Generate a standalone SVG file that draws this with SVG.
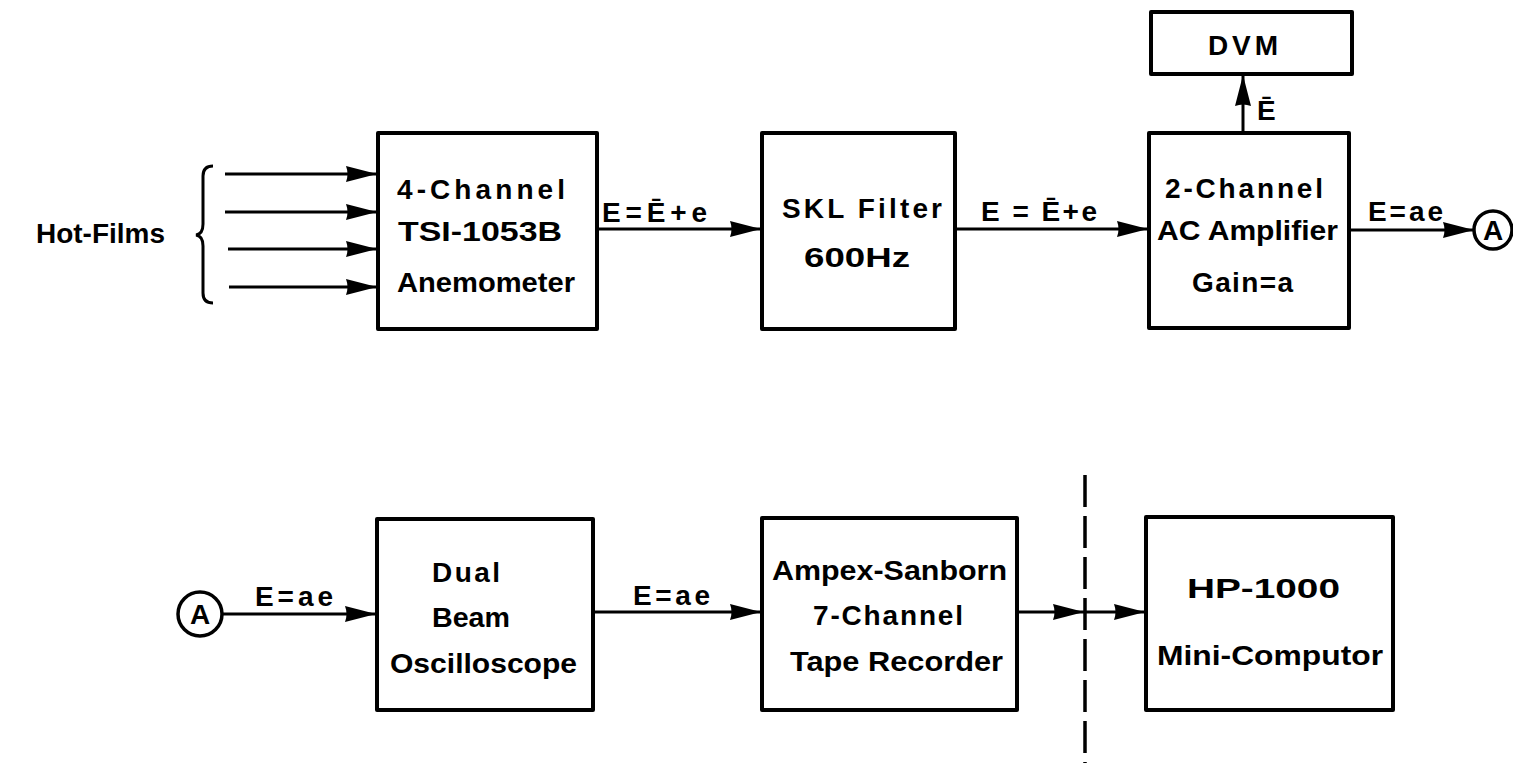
<svg xmlns="http://www.w3.org/2000/svg" width="1513" height="763" viewBox="0 0 1513 763">
<style>
.box{fill:none;stroke:#000;stroke-width:4;stroke-linejoin:round}
.ln{fill:none;stroke:#000;stroke-width:3}
.t{font-family:"Liberation Sans",Arial,sans-serif;font-weight:bold;font-size:28px;fill:#000}
.dash{fill:none;stroke:#000;stroke-width:3.5;stroke-dasharray:32 9}
.circ{fill:#fff;stroke:#000;stroke-width:3.5}
</style>
<defs>
<marker id="ah" markerUnits="userSpaceOnUse" markerWidth="34" markerHeight="18" viewBox="-32 -9 34 18" refX="0" refY="0" orient="auto">
<path d="M0,0 L-31,-8 Q-28,0 -31,8 Z" fill="#000"/>
</marker>
</defs>
<rect x="0" y="0" width="1513" height="763" fill="#fff"/>

<g id="hotfilms">
<text class="t" x="36" y="243" textLength="129" lengthAdjust="spacingAndGlyphs">Hot-Films</text>
<path class="ln" d="M213,166 Q203,166 203,176 L203,224 Q203,234 196,235 Q203,236 203,246 L203,293 Q203,303 213,303"/>
</g>

<g id="anemometer">
<rect class="box" x="378" y="133" width="219" height="196"/>
<text class="t" x="397" y="199" textLength="168">4-Channel</text>
<text class="t" x="398" y="241" textLength="164" lengthAdjust="spacingAndGlyphs">TSI-1053B</text>
<text class="t" x="397" y="292" textLength="178" lengthAdjust="spacingAndGlyphs">Anemometer</text>
</g>

<g id="skl">
<rect class="box" x="762" y="133" width="193" height="196"/>
<text class="t" x="782" y="218" textLength="160">SKL Filter</text>
<text class="t" x="804" y="267" textLength="106" lengthAdjust="spacingAndGlyphs">600Hz</text>
</g>

<g id="amplifier">
<rect class="box" x="1149" y="133" width="200" height="195"/>
<text class="t" x="1165" y="198" textLength="158">2-Channel</text>
<text class="t" x="1157" y="240" textLength="181" lengthAdjust="spacingAndGlyphs">AC Amplifier</text>
<text class="t" x="1192" y="292" textLength="101">Gain=a</text>
</g>

<g id="dvm">
<rect class="box" x="1151" y="12" width="201" height="62"/>
<text class="t" x="1208" y="55" textLength="70">DVM</text>
</g>

<g id="connA-top">
<circle class="circ" cx="1493" cy="230" r="19"/>
<text class="t" x="1493" y="240" text-anchor="middle">A</text>
</g>

<g id="connA-bottom">
<circle class="circ" cx="200" cy="614" r="22"/>
<text class="t" x="200" y="624" text-anchor="middle">A</text>
</g>

<g id="oscilloscope">
<rect class="box" x="377" y="519" width="216" height="191"/>
<text class="t" x="432" y="582" textLength="68">Dual</text>
<text class="t" x="432" y="627" textLength="78" lengthAdjust="spacingAndGlyphs">Beam</text>
<text class="t" x="390" y="673" textLength="187" lengthAdjust="spacingAndGlyphs">Oscilloscope</text>
</g>

<g id="taperecorder">
<rect class="box" x="762" y="518" width="255" height="192"/>
<text class="t" x="772" y="580" textLength="235" lengthAdjust="spacingAndGlyphs">Ampex-Sanborn</text>
<text class="t" x="813" y="625" textLength="150">7-Channel</text>
<text class="t" x="790" y="671" textLength="213" lengthAdjust="spacingAndGlyphs">Tape Recorder</text>
</g>

<g id="computer">
<rect class="box" x="1146" y="517" width="247" height="193"/>
<text class="t" x="1187" y="598" textLength="153" lengthAdjust="spacingAndGlyphs">HP-1000</text>
<text class="t" x="1157" y="665" textLength="226" lengthAdjust="spacingAndGlyphs">Mini-Computor</text>
</g>

<g id="connectors">
<path class="ln" d="M225,174 H377" marker-end="url(#ah)"/>
<path class="ln" d="M225,212 H377" marker-end="url(#ah)"/>
<path class="ln" d="M228,249 H377" marker-end="url(#ah)"/>
<path class="ln" d="M229,287 H377" marker-end="url(#ah)"/>
<path class="ln" d="M597,229 H761" marker-end="url(#ah)"/>
<path class="ln" d="M955,229 H1148" marker-end="url(#ah)"/>
<path class="ln" d="M1349,230 H1474" marker-end="url(#ah)"/>
<path class="ln" d="M1243,133 V75" marker-end="url(#ah)"/>
<path class="ln" d="M222,614 H376" marker-end="url(#ah)"/>
<path class="ln" d="M593,612 H761" marker-end="url(#ah)"/>
<path class="ln" d="M1017,612 H1084" marker-end="url(#ah)"/>
<path class="ln" d="M1084,612 H1145" marker-end="url(#ah)"/>
<path class="dash" d="M1085,475 V763"/>
<text class="t" x="602" y="222" textLength="105">E=Ē+e</text>
<text class="t" x="981" y="221" textLength="116">E = Ē+e</text>
<text class="t" x="1368" y="221" textLength="75">E=ae</text>
<text class="t" x="1257" y="120" textLength="18">Ē</text>
<text class="t" x="255" y="606" textLength="78">E=ae</text>
<text class="t" x="633" y="605" textLength="77">E=ae</text>
</g>
</svg>
